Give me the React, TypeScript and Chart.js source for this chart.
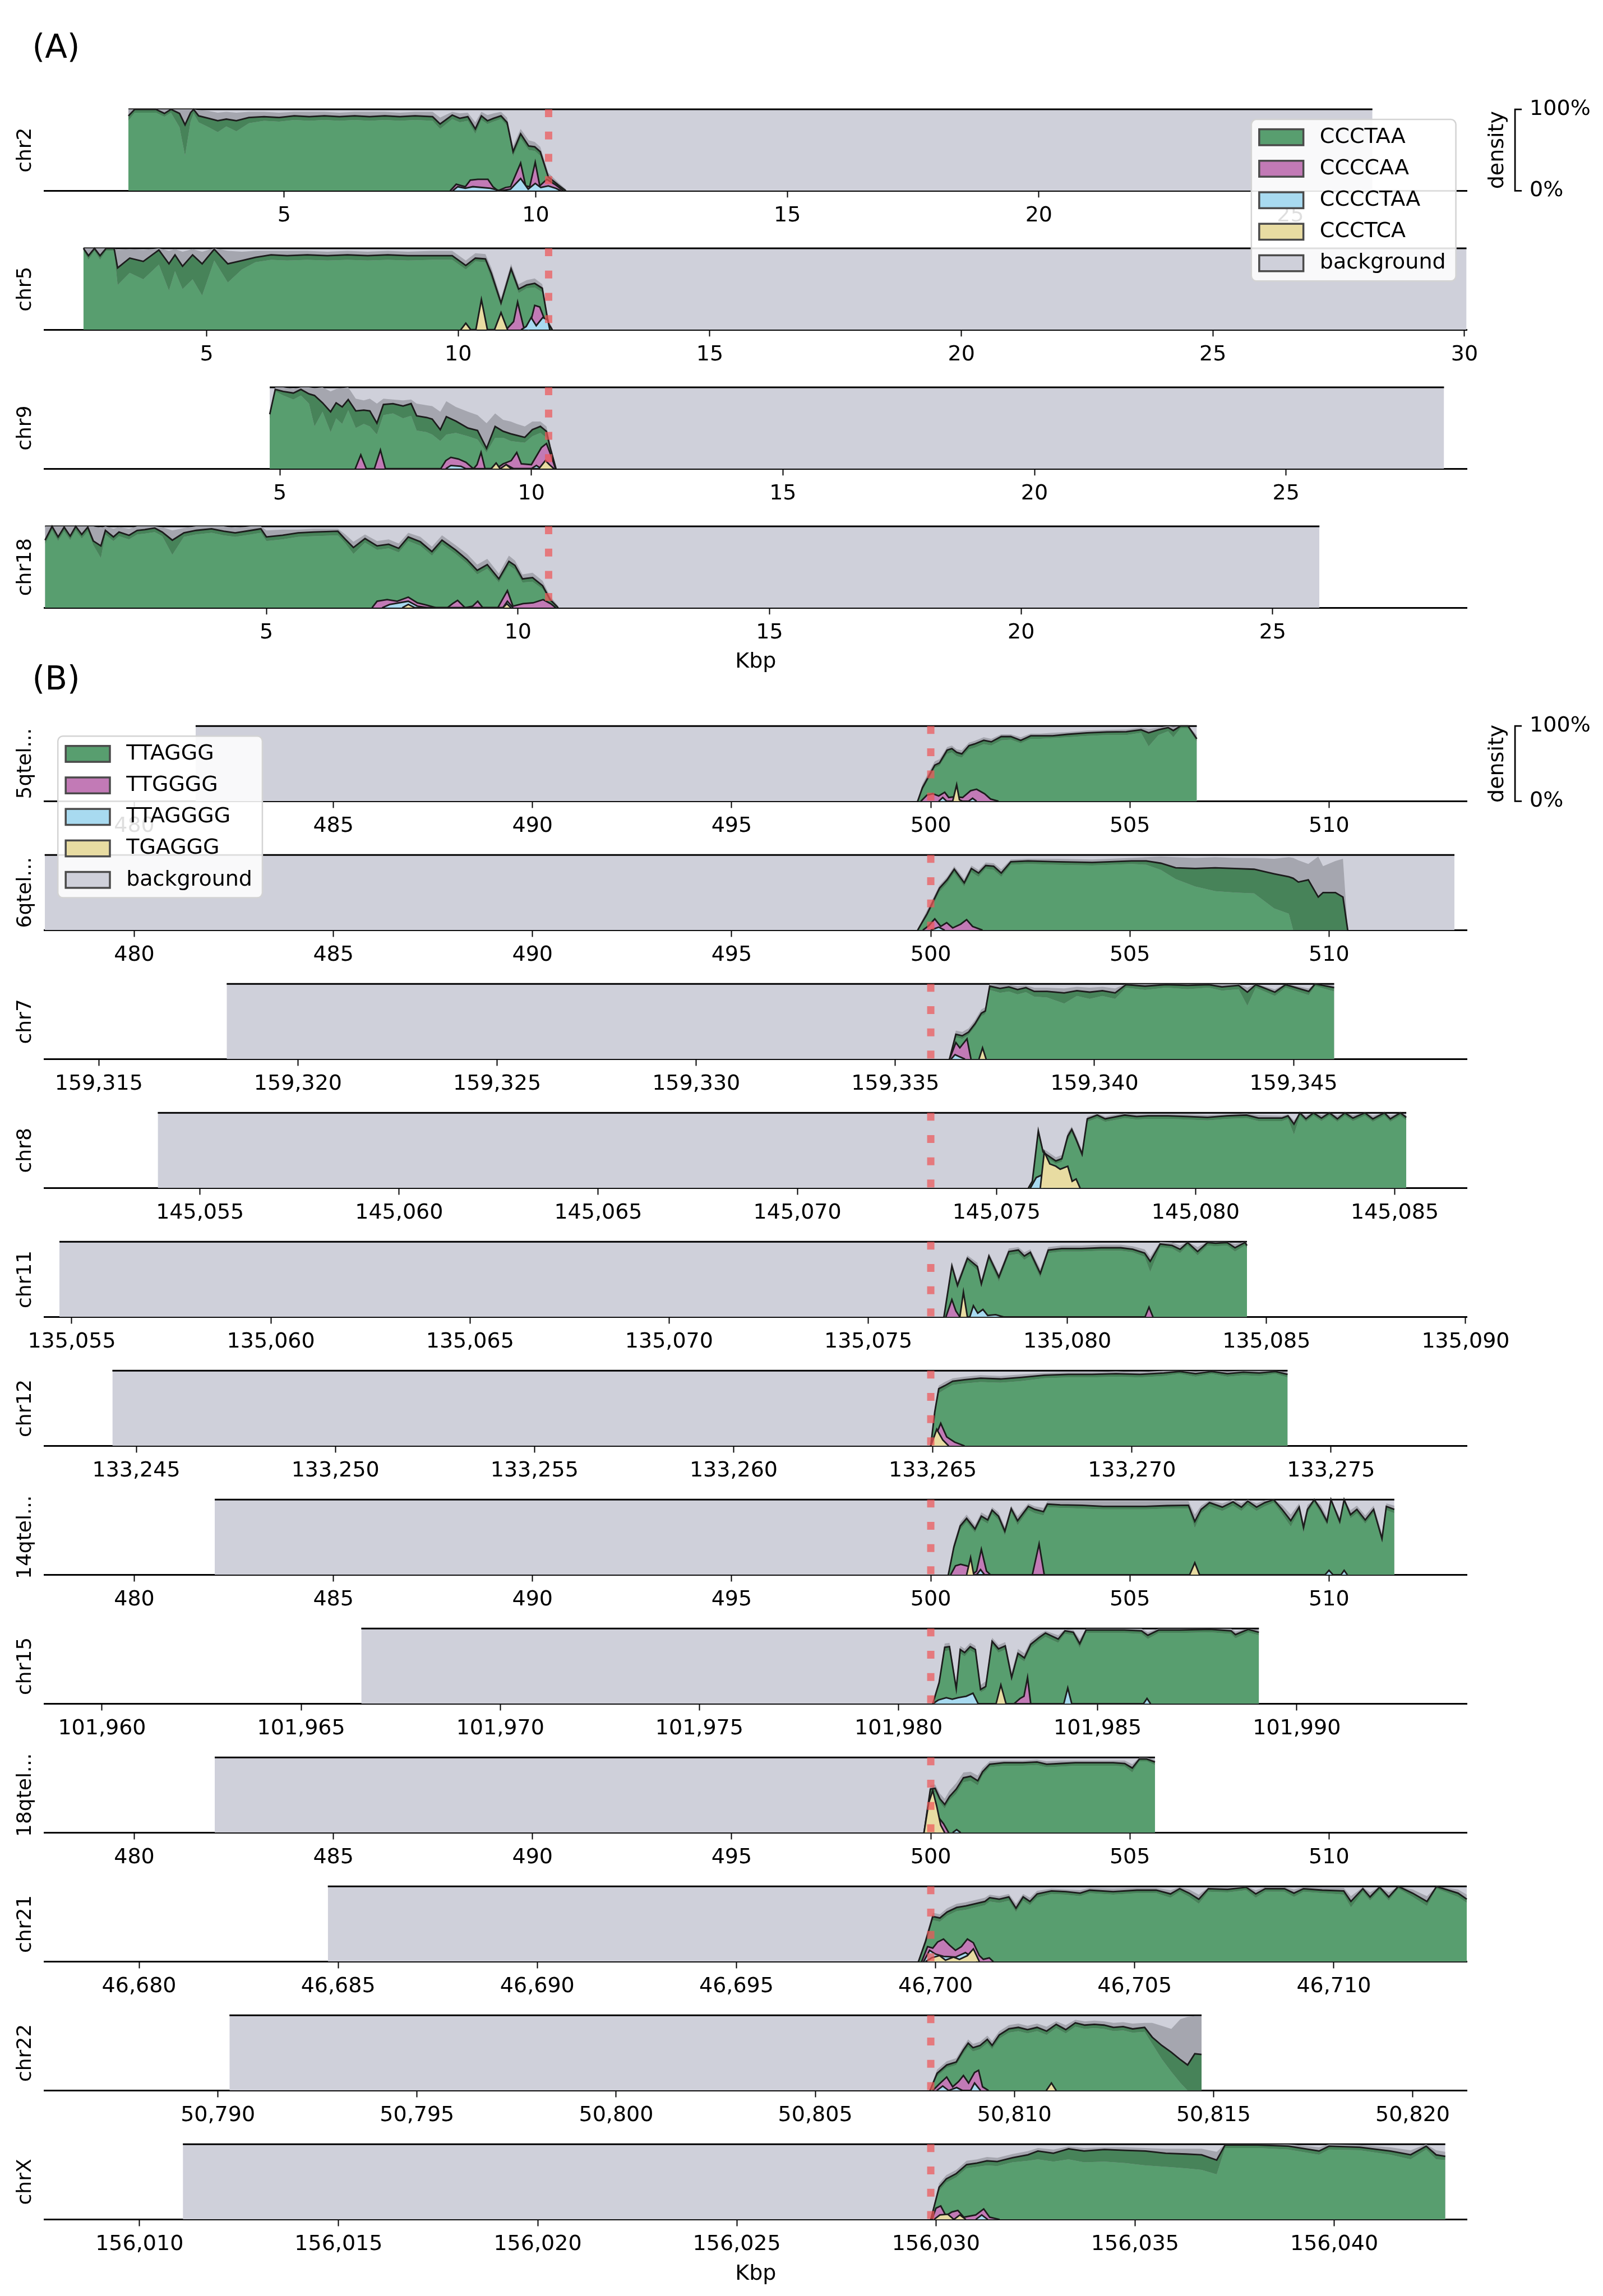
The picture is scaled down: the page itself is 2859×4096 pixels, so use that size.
import React, { useEffect, useRef } from "react";
import { Chart, registerables } from "chart.js";
Chart.register(...registerables);

// ----------------------------- text -----------------------------
const PANEL_LABELS = ["(A)", "(B)"];
const AXIS_TITLE = "Kbp";
const DENSITY_LABEL = "density";
const DENSITY_TICKS = ["0%", "100%"];
const LEGEND_A = ["CCCTAA", "CCCCAA", "CCCCTAA", "CCCTCA", "background"];
const LEGEND_B = ["TTAGGG", "TTGGGG", "TTAGGGG", "TGAGGG", "background"];
const LABELS_A = ["chr2", "chr5", "chr9", "chr18"];
const LABELS_B = ["5qtel...", "6qtel...", "chr7", "chr8", "chr11", "chr12", "14qtel...", "chr15", "18qtel...", "chr21", "chr22", "chrX"];

// ----------------------------- data (Kbp) -----------------------------
const BOUNDARY_A = [10.256, 11.796, 10.343, 10.609];
const BOUNDARY_B = [500, 500, 159335.89, 145073.35, 135076.57, 133264.95, 500, 101980.81, 500, 46699.88, 50807.9, 156029.87];
const BG_A = [[1.904, 26.63], [2.55, 30.04], [4.8, 28.14], [0.6, 25.93]];
const BG_B = [[481.54, 506.68], [477.75, 513.15], [159318.21, 159346.02], [145053.94, 145085.29], [135054.69, 135084.51], [133244.4, 133273.91], [482.02, 511.64], [101966.51, 101989.05], [482.02, 505.63], [46684.74, 46713.34], [50790.29, 50814.7], [156011.09, 156042.79]];

// density bands: [position, lower, mean, upper]
const CHR2_BAND = [[1.904,0.86,0.92,1],[2.03,0.96,1,1],[2.45,0.96,1,1],[2.62,0.91,0.95,1],[2.75,0.96,1,1],[2.92,0.78,0.95,1],[3.03,0.43,0.81,1],[3.14,0.85,0.96,1],[3.2,0.95,1,1],[3.3,0.84,0.92,0.99],[3.5,0.78,0.89,0.98],[3.68,0.72,0.86,0.96],[3.85,0.79,0.88,0.97],[4.05,0.73,0.86,0.96],[4.3,0.83,0.9,0.97],[4.6,0.86,0.91,0.97],[4.9,0.85,0.9,0.96],[5.2,0.87,0.92,0.97],[5.5,0.86,0.91,0.97],[5.8,0.87,0.92,0.97],[6.1,0.86,0.91,0.96],[6.4,0.87,0.92,0.97],[6.7,0.86,0.91,0.97],[7,0.87,0.92,0.97],[7.3,0.86,0.91,0.96],[7.6,0.87,0.92,0.97],[7.95,0.86,0.91,0.97],[8.1,0.76,0.82,0.9],[8.34,0.88,0.93,0.97],[8.49,0.84,0.89,0.95],[8.65,0.86,0.91,0.96],[8.8,0.7,0.76,0.84],[8.92,0.87,0.92,0.97],[9.04,0.82,0.86,0.93],[9.16,0.85,0.89,0.95],[9.31,0.88,0.92,0.97],[9.43,0.8,0.84,0.9],[9.55,0.42,0.48,0.55],[9.7,0.64,0.7,0.76],[9.86,0.5,0.55,0.62],[9.98,0.49,0.54,0.6],[10.09,0.43,0.48,0.54],[10.25,0.13,0.17,0.22],[10.45,0.05,0.07,0.1],[10.6,0,0,0.02]];
const CHR2_PINK = [[8.3,0],[8.42,0.08],[8.6,0.05],[8.7,0.13],[8.85,0.14],[9.05,0.14],[9.15,0.05],[9.25,0],[9.4,0.04],[9.5,0.05],[9.7,0.34],[9.8,0.06],[9.88,0.05],[9.99,0.35],[10.08,0.06],[10.22,0.14],[10.4,0.07],[10.55,0]];
const CHR2_BLUE = [[8.35,0],[8.45,0.05],[8.6,0.03],[8.75,0.05],[9.1,0.03],[9.3,0],[9.5,0.02],[9.7,0.15],[9.85,0.02],[9.99,0.09],[10.1,0.04],[10.25,0.06],[10.4,0.03],[10.5,0]];
const CHR2_YELLOW: number[][] = [];

const CHR5_BAND = [[2.55,0.97,1,1],[2.65,0.86,0.91,1],[2.77,0.97,1,1],[2.88,0.86,0.91,1],[3,0.97,1,1],[3.16,0.97,1,1],[3.23,0.55,0.76,0.98],[3.47,0.7,0.88,0.99],[3.74,0.62,0.84,0.98],[4.05,0.8,0.98,1],[4.25,0.48,0.81,0.97],[4.37,0.72,0.92,0.99],[4.52,0.5,0.78,0.96],[4.72,0.62,0.92,0.99],[4.91,0.42,0.81,0.96],[5.15,0.85,0.99,1],[5.42,0.58,0.81,0.97],[5.7,0.74,0.85,0.96],[5.97,0.83,0.89,0.97],[6.28,0.86,0.92,0.97],[6.6,0.85,0.91,0.97],[7,0.86,0.92,0.97],[7.4,0.85,0.91,0.96],[7.8,0.86,0.92,0.97],[8.2,0.85,0.91,0.96],[8.6,0.86,0.92,0.97],[9,0.85,0.91,0.96],[9.48,0.86,0.91,0.97],[9.88,0.86,0.91,0.97],[10.15,0.74,0.79,0.85],[10.34,0.84,0.88,0.94],[10.54,0.83,0.87,0.93],[10.66,0.62,0.69,0.76],[10.85,0.28,0.33,0.39],[11.05,0.7,0.75,0.81],[11.2,0.45,0.5,0.56],[11.36,0.51,0.55,0.61],[11.52,0.52,0.57,0.63],[11.67,0.46,0.51,0.56],[11.79,0.05,0.08,0.12],[11.87,0,0,0.02]];
const CHR5_PINK = [[10.95,0],[11.1,0.1],[11.18,0.34],[11.3,0.03],[11.4,0],[11.52,0.3],[11.62,0.28],[11.72,0.12],[11.8,0]];
const CHR5_BLUE = [[11.25,0],[11.35,0.04],[11.45,0.15],[11.55,0.05],[11.68,0.15],[11.78,0.12],[11.82,0]];
const CHR5_YELLOW = [[10.05,0],[10.15,0.08],[10.25,0],[10.35,0],[10.46,0.37],[10.58,0],[10.72,0],[10.85,0.21],[10.98,0]];

const CHR9_BAND = [[4.8,0.6,0.67,0.7],[4.91,0.95,0.975,1],[5.07,0.9,0.95,1],[5.27,0.85,0.93,0.98],[5.42,0.9,0.975,1],[5.58,0.8,0.92,1],[5.69,0.52,0.9,0.99],[5.85,0.7,0.81,1],[6.01,0.45,0.7,0.95],[6.12,0.62,0.81,0.98],[6.24,0.55,0.76,0.99],[6.36,0.72,0.85,1],[6.51,0.5,0.71,0.86],[6.67,0.55,0.72,0.84],[6.79,0.52,0.71,0.86],[6.93,0.42,0.56,0.8],[7.06,0.66,0.79,0.86],[7.25,0.68,0.8,0.85],[7.45,0.62,0.77,0.84],[7.61,0.65,0.8,0.85],[7.72,0.47,0.65,0.8],[7.92,0.45,0.63,0.78],[8.03,0.42,0.61,0.77],[8.19,0.34,0.48,0.7],[8.31,0.42,0.64,0.83],[8.5,0.44,0.585,0.76],[8.74,0.4,0.5,0.7],[8.93,0.36,0.47,0.66],[9.11,0.2,0.25,0.56],[9.28,0.38,0.52,0.68],[9.44,0.38,0.46,0.6],[9.59,0.34,0.43,0.58],[9.71,0.33,0.41,0.55],[9.87,0.32,0.385,0.52],[10.02,0.4,0.48,0.58],[10.18,0.44,0.52,0.58],[10.3,0.38,0.46,0.52],[10.37,0.22,0.27,0.32],[10.49,0,0,0.02]];
const CHR9_PINK = [[6.5,0],[6.61,0.17],[6.72,0],[6.88,0],[7,0.23],[7.1,0],[8.2,0],[8.3,0.1],[8.4,0.14],[8.55,0.12],[8.7,0.08],[8.85,0],[8.92,0.05],[9,0.2],[9.08,0],[9.3,0],[9.44,0.06],[9.6,0.1],[9.71,0.2],[9.8,0.06],[10,0.05],[10.2,0.26],[10.3,0.31],[10.4,0.15],[10.48,0]];
const CHR9_BLUE = [[8.3,0],[8.4,0.04],[8.6,0.03],[8.7,0],[9.4,0],[9.5,0.05],[9.65,0],[10,0],[10.1,0.04],[10.2,0]];
const CHR9_YELLOW = [[9.2,0],[9.3,0.07],[9.38,0],[9.5,0.05],[9.6,0],[10.15,0],[10.28,0.1],[10.36,0.05],[10.45,0]];

const CHR18_BAND = [[0.6,0.78,0.83,1],[0.74,0.95,1,1],[0.86,0.82,0.87,1],[0.98,0.94,0.99,1],[1.1,0.83,0.88,1],[1.21,0.95,1,1],[1.33,0.85,0.9,1],[1.45,0.94,0.99,1],[1.56,0.77,0.82,1],[1.71,0.61,0.76,0.98],[1.8,0.9,0.95,1],[1.96,0.82,0.87,0.97],[2.07,0.88,0.93,0.99],[2.27,0.84,0.89,0.97],[2.43,0.9,0.95,1],[2.58,0.91,0.96,1],[2.78,0.93,0.98,1],[2.93,0.88,0.93,0.99],[3.13,0.65,0.83,0.95],[3.36,0.87,0.92,0.98],[3.6,0.9,0.95,1],[3.91,0.92,0.97,1],[4.15,0.89,0.94,1],[4.38,0.87,0.92,0.98],[4.69,0.9,0.95,1],[4.89,0.92,0.97,1],[5,0.82,0.87,0.95],[5.32,0.84,0.89,0.96],[5.63,0.87,0.92,0.96],[5.95,0.88,0.93,0.97],[6.42,0.89,0.94,0.97],[6.57,0.79,0.84,0.9],[6.73,0.66,0.74,0.81],[6.96,0.8,0.85,0.9],[7.2,0.71,0.76,0.82],[7.43,0.73,0.78,0.84],[7.63,0.68,0.73,0.79],[7.82,0.82,0.87,0.92],[8.06,0.76,0.81,0.87],[8.29,0.64,0.69,0.75],[8.49,0.78,0.83,0.89],[8.76,0.66,0.71,0.77],[8.99,0.54,0.59,0.66],[9.19,0.41,0.46,0.53],[9.39,0.48,0.53,0.6],[9.62,0.31,0.355,0.42],[9.82,0.52,0.57,0.64],[9.94,0.47,0.52,0.58],[10.09,0.31,0.355,0.41],[10.29,0.32,0.37,0.43],[10.49,0.23,0.27,0.33],[10.64,0.07,0.1,0.14],[10.8,0,0,0.02]];
const CHR18_PINK = [[7.1,0],[7.2,0.08],[7.4,0.1],[7.6,0.08],[7.82,0.13],[8,0.06],[8.2,0.03],[8.37,0],[8.6,0],[8.7,0.05],[8.8,0.09],[8.95,0],[9.1,0.02],[9.2,0.08],[9.3,0],[9.6,0],[9.79,0.21],[9.9,0.02],[10.1,0.05],[10.3,0.06],[10.5,0.1],[10.65,0.05],[10.75,0]];
const CHR18_BLUE = [[7.3,0],[7.45,0.04],[7.82,0.08],[8,0.02],[8.2,0],[9.7,0],[9.79,0.08],[9.9,0]];
const CHR18_YELLOW = [[7.7,0],[7.82,0.04],[7.95,0],[9.7,0],[9.78,0.05],[9.86,0]];

const Q5_BAND = [[499.67,0,0,0.02],[499.79,0.14,0.18,0.23],[500.1,0.44,0.48,0.53],[500.22,0.47,0.51,0.56],[500.41,0.63,0.68,0.72],[500.53,0.65,0.7,0.74],[500.65,0.6,0.65,0.69],[500.78,0.58,0.63,0.68],[500.96,0.69,0.74,0.78],[501.09,0.71,0.76,0.8],[501.33,0.76,0.81,0.85],[501.52,0.74,0.79,0.83],[501.77,0.81,0.86,0.89],[502.01,0.82,0.86,0.89],[502.26,0.77,0.81,0.85],[502.51,0.83,0.87,0.9],[502.75,0.83,0.87,0.9],[503.06,0.84,0.87,0.91],[503.43,0.85,0.89,0.92],[503.93,0.87,0.91,0.94],[504.42,0.88,0.92,0.95],[504.91,0.88,0.925,0.955],[505.28,0.91,0.95,0.98],[505.47,0.73,0.91,0.96],[505.72,0.88,0.95,0.98],[505.96,0.93,0.98,1],[506.09,0.85,0.94,0.99],[506.27,0.97,1,1],[506.46,0.97,1,1],[506.68,0.79,0.83,0.88]];
const Q5_PINK = [[499.75,0],[499.9,0.08],[500.05,0.1],[500.2,0.07],[500.35,0.12],[500.45,0.05],[500.6,0.06],[500.8,0.05],[501,0.14],[501.15,0.16],[501.35,0.1],[501.5,0.03],[501.7,0]];
const Q5_BLUE = [[500.2,0],[500.3,0.05],[500.4,0],[500.95,0],[501.05,0.04],[501.15,0]];
const Q5_YELLOW = [[500.55,0],[500.65,0.22],[500.72,0.02],[500.8,0]];

const Q6_BAND = [[499.67,0,0,0.02],[499.91,0.18,0.22,0.27],[500.22,0.51,0.56,0.6],[500.41,0.62,0.67,0.71],[500.59,0.76,0.81,0.85],[500.84,0.58,0.63,0.68],[501.02,0.77,0.82,0.86],[501.2,0.71,0.76,0.8],[501.38,0.82,0.86,0.9],[501.58,0.8,0.85,0.89],[501.77,0.71,0.76,0.81],[502.01,0.87,0.91,0.94],[502.44,0.88,0.92,0.95],[503.19,0.87,0.91,0.95],[504.05,0.86,0.9,0.94],[505.04,0.88,0.92,0.96],[505.41,0.87,0.92,0.97],[505.78,0.8,0.89,0.98],[506.15,0.68,0.83,0.97],[506.64,0.58,0.82,0.96],[507.14,0.52,0.83,0.97],[507.63,0.5,0.82,0.96],[508.12,0.49,0.81,0.96],[508.62,0.29,0.75,0.95],[508.99,0.22,0.71,0.97],[509.1,0,0.69,0.96],[509.23,0,0.64,0.93],[509.48,0,0.67,0.88],[509.73,0,0.44,0.98],[509.85,0,0.5,0.85],[510.16,0,0.5,0.92],[510.35,0,0.44,0.95],[510.47,0,0,0]];
const Q6_PINK = [[499.8,0],[499.95,0.06],[500.1,0.15],[500.25,0.05],[500.4,0.1],[500.55,0.03],[500.75,0.08],[500.9,0.14],[501.05,0.05],[501.3,0]];
const Q6_BLUE = [[500,0],[500.2,0.04],[500.35,0]];
const Q6_YELLOW: number[][] = [];

const CHR7_BAND = [[159336.36,0,0,0.02],[159336.52,0.29,0.33,0.38],[159336.68,0.27,0.31,0.36],[159336.84,0.32,0.36,0.41],[159337,0.43,0.47,0.52],[159337.16,0.57,0.61,0.66],[159337.26,0.6,0.64,0.69],[159337.37,0.92,0.97,1],[159337.63,0.88,0.94,0.99],[159337.85,0.9,0.96,0.99],[159338.07,0.86,0.925,0.97],[159338.28,0.89,0.95,0.98],[159338.49,0.83,0.9,0.95],[159338.81,0.82,0.9,0.95],[159339.24,0.74,0.88,0.94],[159339.56,0.84,0.91,0.96],[159339.88,0.8,0.89,0.95],[159340.2,0.84,0.91,0.96],[159340.52,0.8,0.88,0.94],[159340.79,0.95,0.99,1],[159341.27,0.92,0.97,1],[159341.8,0.95,0.99,1],[159342.34,0.93,0.98,1],[159342.87,0.95,0.99,1],[159343.2,0.91,0.96,1],[159343.62,0.93,0.98,1],[159343.84,0.71,0.89,0.95],[159344.05,0.95,0.99,1],[159344.53,0.84,0.89,0.93],[159344.8,0.95,0.99,1],[159345.38,0.85,0.9,0.94],[159345.54,0.97,1,1],[159346.02,0.9,0.95,0.98]];
const CHR7_PINK = [[159336.36,0],[159336.52,0.22],[159336.62,0.15],[159336.8,0.27],[159336.9,0]];
const CHR7_BLUE = [[159336.4,0],[159336.5,0.06],[159336.62,0.03],[159336.75,0]];
const CHR7_YELLOW = [[159337.1,0],[159337.19,0.15],[159337.28,0]];

const CHR8_BAND = [[145075.8,0,0,0.02],[145075.9,0.07,0.09,0.12],[145076.05,0.7,0.76,0.8],[145076.17,0.44,0.48,0.52],[145076.27,0.4,0.44,0.49],[145076.49,0.32,0.36,0.41],[145076.64,0.35,0.39,0.44],[145076.79,0.64,0.69,0.74],[145076.89,0.73,0.78,0.82],[145076.99,0.62,0.66,0.71],[145077.15,0.4,0.45,0.5],[145077.28,0.88,0.92,0.95],[145077.53,0.93,0.97,0.99],[145077.73,0.88,0.92,0.95],[145077.92,0.9,0.94,0.97],[145078.22,0.93,0.97,0.99],[145078.52,0.91,0.95,0.98],[145078.81,0.92,0.96,0.98],[145079.31,0.92,0.96,0.98],[145079.8,0.91,0.95,0.98],[145080.3,0.9,0.94,0.97],[145080.79,0.92,0.96,0.98],[145081.28,0.93,0.97,0.99],[145081.58,0.89,0.93,0.97],[145082.17,0.89,0.93,0.96],[145082.32,0.92,0.96,0.98],[145082.47,0.71,0.85,0.9],[145082.62,0.96,1,1],[145082.77,0.88,0.92,0.96],[145082.96,0.96,1,1],[145083.16,0.89,0.93,0.97],[145083.36,0.96,1,1],[145083.56,0.88,0.92,0.96],[145083.75,0.96,1,1],[145083.95,0.89,0.93,0.97],[145084.25,0.96,1,1],[145084.45,0.88,0.92,0.96],[145084.74,0.96,1,1],[145084.89,0.88,0.92,0.96],[145085.14,0.96,1,1],[145085.29,0.9,0.94,0.97]];
const CHR8_PINK: number[][] = [];
const CHR8_BLUE = [[145075.85,0],[145076,0.14],[145076.12,0.17],[145076.2,0]];
const CHR8_YELLOW = [[145076.1,0],[145076.2,0.48],[145076.34,0.32],[145076.49,0.29],[145076.6,0.25],[145076.79,0.29],[145076.9,0.09],[145077,0.12],[145077.1,0]];

const CHR11_BAND = [[135076.9,0,0,0.02],[135077.1,0.63,0.68,0.73],[135077.24,0.37,0.42,0.48],[135077.49,0.73,0.78,0.82],[135077.74,0.62,0.67,0.72],[135077.84,0.39,0.44,0.5],[135078.03,0.75,0.81,0.85],[135078.28,0.47,0.53,0.58],[135078.53,0.82,0.87,0.91],[135078.77,0.84,0.89,0.93],[135078.92,0.76,0.81,0.86],[135079.07,0.81,0.86,0.9],[135079.32,0.52,0.58,0.64],[135079.52,0.85,0.89,0.93],[135079.86,0.87,0.91,0.95],[135080.36,0.87,0.91,0.95],[135080.85,0.88,0.92,0.96],[135081.34,0.88,0.92,0.96],[135081.64,0.86,0.9,0.94],[135081.94,0.8,0.85,0.9],[135082.08,0.6,0.74,0.8],[135082.33,0.93,0.97,1],[135082.63,0.91,0.95,0.99],[135082.83,0.85,0.9,0.95],[135083.02,0.95,0.99,1],[135083.27,0.82,0.87,0.93],[135083.52,0.95,0.99,1],[135083.72,0.94,0.98,1],[135084.01,0.95,0.99,1],[135084.21,0.87,0.92,0.97],[135084.46,0.95,0.99,1],[135084.51,0.91,0.95,0.99]];
const CHR11_PINK = [[135076.95,0],[135077.1,0.23],[135077.2,0.08],[135077.3,0],[135081.95,0],[135082.05,0.13],[135082.15,0]];
const CHR11_BLUE = [[135077.55,0],[135077.64,0.15],[135077.75,0.05],[135077.88,0.1],[135078,0.02],[135078.2,0.03],[135078.4,0]];
const CHR11_YELLOW = [[135077.3,0],[135077.39,0.33],[135077.49,0]];

const CHR12_BAND = [[133264.95,0,0,0.02],[133265.05,0.4,0.45,0.5],[133265.15,0.7,0.76,0.8],[133265.3,0.75,0.8,0.85],[133265.5,0.81,0.86,0.9],[133265.8,0.83,0.88,0.92],[133266.2,0.85,0.9,0.94],[133266.7,0.84,0.89,0.93],[133267.2,0.86,0.91,0.95],[133267.8,0.9,0.94,0.97],[133268.4,0.91,0.95,0.98],[133269,0.91,0.95,0.98],[133269.6,0.92,0.96,0.99],[133270.2,0.91,0.95,0.98],[133270.8,0.93,0.97,1],[133271.2,0.96,0.99,1],[133271.6,0.92,0.96,0.99],[133272,0.96,0.99,1],[133272.4,0.92,0.96,0.99],[133272.8,0.94,0.98,1],[133273.2,0.93,0.97,1],[133273.6,0.96,0.99,1],[133273.91,0.91,0.95,0.98]];
const CHR12_PINK = [[133264.95,0],[133265.05,0.1],[133265.2,0.3],[133265.35,0.12],[133265.55,0.05],[133265.8,0]];
const CHR12_BLUE: number[][] = [];
const CHR12_YELLOW = [[133264.95,0],[133265.1,0.22],[133265.25,0.08],[133265.4,0]];

const Q14_BAND = [[500.44,0,0,0.02],[500.58,0.32,0.37,0.42],[500.74,0.6,0.65,0.7],[500.9,0.7,0.75,0.8],[501.11,0.56,0.61,0.66],[501.27,0.73,0.78,0.83],[501.43,0.68,0.73,0.78],[501.54,0.81,0.86,0.9],[501.7,0.73,0.78,0.83],[501.86,0.52,0.58,0.64],[502.02,0.83,0.88,0.92],[502.18,0.66,0.72,0.78],[502.45,0.86,0.91,0.95],[502.61,0.82,0.87,0.91],[502.83,0.79,0.84,0.89],[502.93,0.9,0.94,0.98],[503.25,0.89,0.93,0.98],[503.79,0.88,0.925,0.98],[504.33,0.87,0.91,0.98],[504.86,0.87,0.91,0.98],[505.4,0.87,0.91,0.98],[505.93,0.88,0.92,0.98],[506.47,0.88,0.925,0.98],[506.63,0.62,0.71,0.8],[506.79,0.82,0.87,0.92],[507,0.91,0.96,0.99],[507.32,0.85,0.9,0.95],[507.59,0.92,0.97,1],[507.8,0.85,0.9,0.95],[507.96,0.93,0.98,1],[508.18,0.85,0.9,0.95],[508.39,0.91,0.96,0.99],[508.61,0.96,1,1],[508.82,0.81,0.87,0.93],[509.04,0.64,0.72,0.8],[509.25,0.85,0.9,0.95],[509.36,0.55,0.63,0.7],[509.46,0.82,0.87,0.93],[509.63,0.96,1,1],[509.79,0.82,0.87,0.93],[509.95,0.66,0.71,0.77],[510.05,0.96,1,1],[510.27,0.66,0.71,0.77],[510.38,0.96,1,1],[510.54,0.75,0.8,0.86],[510.7,0.82,0.87,0.92],[510.91,0.68,0.73,0.79],[511.12,0.82,0.87,0.92],[511.33,0.43,0.48,0.55],[511.44,0.86,0.91,0.95],[511.64,0.82,0.87,0.92]];
const Q14_PINK = [[500.5,0],[500.62,0.12],[500.75,0.14],[500.9,0.12],[501,0.1],[501.08,0.02],[501.15,0.05],[501.27,0.34],[501.4,0.05],[501.5,0],[502.55,0],[502.72,0.41],[502.85,0]];
const Q14_BLUE = [[501.15,0],[501.25,0.07],[501.35,0],[509.9,0],[510,0.06],[510.1,0],[510.3,0],[510.38,0.06],[510.46,0]];
const Q14_YELLOW = [[500.9,0],[501,0.23],[501.08,0],[506.5,0],[506.63,0.16],[506.75,0]];

const CHR15_BAND = [[101980.86,0,0,0.02],[101981.02,0.24,0.28,0.33],[101981.16,0.7,0.75,0.8],[101981.28,0.71,0.76,0.81],[101981.45,0.16,0.2,0.26],[101981.55,0.67,0.72,0.77],[101981.66,0.63,0.68,0.73],[101981.8,0.71,0.76,0.81],[101981.93,0.67,0.72,0.77],[101982.06,0.15,0.19,0.25],[101982.19,0.19,0.23,0.3],[101982.35,0.78,0.83,0.88],[101982.51,0.68,0.73,0.78],[101982.68,0.72,0.77,0.82],[101982.84,0.3,0.35,0.42],[101983,0.62,0.67,0.73],[101983.16,0.56,0.61,0.67],[101983.32,0.74,0.79,0.84],[101983.53,0.83,0.88,0.92],[101983.69,0.89,0.94,0.97],[101983.85,0.85,0.9,0.94],[101984.01,0.81,0.86,0.91],[101984.18,0.93,0.97,0.99],[101984.39,0.91,0.95,0.98],[101984.55,0.74,0.8,0.86],[101984.71,0.94,0.98,1],[101985.14,0.94,0.98,1],[101985.67,0.94,0.98,1],[101986.1,0.93,0.97,1],[101986.26,0.86,0.91,0.95],[101986.53,0.94,0.98,1],[101987.07,0.94,0.98,1],[101987.82,0.95,0.99,1],[101988.35,0.93,0.97,1],[101988.46,0.87,0.92,0.96],[101988.78,0.95,0.99,1],[101989.05,0.91,0.95,0.98]];
const CHR15_PINK = [[101982.9,0],[101983.05,0.07],[101983.15,0.1],[101983.24,0.35],[101983.32,0]];
const CHR15_BLUE = [[101980.86,0],[101981,0.05],[101981.2,0.08],[101981.35,0.06],[101981.5,0.08],[101981.7,0.1],[101981.87,0.14],[101982,0],[101984.15,0],[101984.25,0.21],[101984.35,0],[101986.15,0],[101986.24,0.07],[101986.33,0]];
const CHR15_YELLOW = [[101982.45,0],[101982.57,0.25],[101982.7,0]];

const Q18_BAND = [[499.83,0,0,0.02],[499.99,0.53,0.58,0.63],[500.11,0.54,0.59,0.64],[500.23,0.4,0.45,0.52],[500.35,0.32,0.375,0.45],[500.47,0.43,0.48,0.56],[500.64,0.52,0.58,0.66],[500.82,0.67,0.73,0.8],[501,0.69,0.75,0.81],[501.18,0.63,0.69,0.76],[501.3,0.76,0.81,0.86],[501.48,0.87,0.91,0.95],[501.84,0.89,0.93,0.96],[502.31,0.89,0.93,0.96],[502.67,0.9,0.94,0.97],[502.91,0.87,0.91,0.95],[503.27,0.88,0.92,0.96],[503.63,0.89,0.93,0.96],[504.1,0.89,0.93,0.96],[504.58,0.89,0.93,0.96],[504.87,0.88,0.92,0.96],[505.06,0.8,0.86,0.91],[505.24,0.95,0.98,1],[505.42,0.95,0.98,1],[505.63,0.9,0.94,0.97]];
const Q18_PINK = [[500.1,0],[500.2,0.2],[500.32,0.12],[500.45,0]];
const Q18_BLUE = [[500.55,0],[500.65,0.04],[500.75,0]];
const Q18_YELLOW = [[499.83,0],[499.95,0.4],[500.05,0.56],[500.15,0.35],[500.25,0.1],[500.35,0]];

const CHR21_BAND = [[46699.57,0,0,0.02],[46699.75,0.23,0.27,0.32],[46699.93,0.55,0.6,0.65],[46700.11,0.53,0.58,0.63],[46700.29,0.61,0.66,0.71],[46700.53,0.67,0.72,0.77],[46700.76,0.69,0.74,0.79],[46701,0.72,0.77,0.82],[46701.24,0.75,0.8,0.85],[46701.36,0.8,0.85,0.89],[46701.6,0.78,0.83,0.87],[46701.84,0.81,0.86,0.9],[46702.02,0.66,0.71,0.77],[46702.2,0.81,0.86,0.9],[46702.37,0.75,0.8,0.85],[46702.55,0.85,0.9,0.94],[46702.91,0.9,0.94,0.97],[46703.27,0.89,0.93,0.96],[46703.63,0.87,0.91,0.95],[46703.87,0.91,0.95,0.98],[46704.46,0.89,0.93,0.97],[46705.06,0.91,0.95,0.98],[46705.54,0.91,0.95,0.98],[46705.9,0.85,0.9,0.95],[46706.13,0.93,0.97,0.99],[46706.37,0.86,0.91,0.96],[46706.61,0.77,0.83,0.89],[46706.85,0.93,0.97,0.99],[46707.33,0.92,0.96,0.99],[46707.8,0.95,0.99,1],[46708.04,0.85,0.9,0.95],[46708.28,0.93,0.97,0.99],[46708.76,0.93,0.97,0.99],[46709,0.86,0.91,0.96],[46709.24,0.93,0.97,0.99],[46709.71,0.91,0.95,0.98],[46710.25,0.89,0.94,0.98],[46710.43,0.72,0.8,0.87],[46710.73,0.93,0.97,0.99],[46710.91,0.81,0.86,0.92],[46711.15,0.95,0.99,1],[46711.38,0.81,0.86,0.92],[46711.62,0.97,1,1],[46711.98,0.86,0.91,0.96],[46712.34,0.74,0.8,0.87],[46712.58,0.97,1,1],[46713.12,0.86,0.91,0.96],[46713.34,0.78,0.83,0.89]];
const CHR21_PINK = [[46699.65,0],[46699.8,0.2],[46699.93,0.18],[46700.05,0.26],[46700.2,0.3],[46700.35,0.22],[46700.5,0.15],[46700.65,0.2],[46700.8,0.3],[46700.95,0.25],[46701.1,0.08],[46701.2,0.03],[46701.35,0.05],[46701.45,0]];
const CHR21_BLUE = [[46699.7,0],[46699.85,0.15],[46700,0.1],[46700.2,0.07],[46700.5,0.06],[46700.75,0.12],[46700.95,0.05],[46701.05,0]];
const CHR21_YELLOW = [[46699.75,0],[46699.9,0.05],[46700.1,0.08],[46700.25,0.02],[46700.45,0.06],[46700.6,0.03],[46700.8,0.08],[46700.95,0.17],[46701.1,0]];

const CHR22_BAND = [[50807.88,0,0,0.02],[50808.06,0.19,0.23,0.28],[50808.3,0.3,0.34,0.39],[50808.54,0.34,0.38,0.43],[50808.72,0.49,0.54,0.59],[50808.84,0.58,0.63,0.68],[50808.96,0.52,0.57,0.62],[50809.14,0.55,0.6,0.65],[50809.32,0.63,0.68,0.73],[50809.44,0.55,0.6,0.66],[50809.62,0.69,0.74,0.79],[50809.86,0.77,0.82,0.87],[50810.1,0.79,0.84,0.89],[50810.33,0.76,0.81,0.86],[50810.57,0.79,0.84,0.89],[50810.81,0.74,0.79,0.85],[50811.05,0.83,0.88,0.92],[50811.29,0.76,0.81,0.87],[50811.53,0.85,0.9,0.94],[50811.77,0.82,0.87,0.92],[50812.01,0.83,0.88,0.93],[50812.25,0.82,0.87,0.92],[50812.49,0.79,0.84,0.9],[50812.73,0.8,0.85,0.91],[50812.97,0.77,0.82,0.89],[50813.27,0.78,0.84,0.9],[50813.46,0.62,0.71,0.9],[50813.7,0.42,0.6,0.86],[50813.94,0.25,0.51,0.82],[50814.17,0.1,0.41,0.95],[50814.35,0,0.34,0.98],[50814.53,0,0.49,0.99],[50814.7,0,0.48,0.99]];
const CHR22_PINK = [[50807.95,0],[50808.1,0.08],[50808.3,0.18],[50808.45,0.05],[50808.6,0.12],[50808.72,0.2],[50808.85,0.1],[50809,0.24],[50809.1,0.27],[50809.2,0.05],[50809.35,0]];
const CHR22_BLUE = [[50808.05,0],[50808.2,0.06],[50808.35,0],[50808.55,0.04],[50808.7,0],[50808.9,0],[50809,0.1],[50809.15,0]];
const CHR22_YELLOW = [[50810.8,0],[50810.93,0.1],[50811.05,0]];

const CHRX_BAND = [[156029.87,0,0,0.02],[156030.08,0.38,0.43,0.48],[156030.26,0.49,0.54,0.59],[156030.51,0.56,0.61,0.66],[156030.77,0.68,0.73,0.78],[156031.03,0.7,0.75,0.8],[156031.28,0.72,0.78,0.83],[156031.54,0.71,0.77,0.82],[156031.92,0.76,0.82,0.87],[156032.31,0.78,0.86,0.91],[156032.56,0.8,0.91,0.95],[156032.95,0.77,0.88,0.93],[156033.33,0.8,0.94,0.97],[156033.72,0.76,0.91,0.95],[156034.23,0.77,0.93,0.96],[156034.74,0.75,0.92,0.96],[156035.26,0.72,0.91,0.95],[156035.77,0.7,0.88,0.94],[156036.28,0.68,0.87,0.94],[156036.67,0.66,0.86,0.94],[156037.05,0.6,0.79,0.9],[156037.26,0.95,0.99,1],[156038.08,0.95,0.99,1],[156038.85,0.93,0.975,1],[156039.62,0.86,0.91,0.96],[156039.87,0.93,0.975,1],[156040.64,0.92,0.96,0.99],[156041.41,0.86,0.91,0.96],[156041.92,0.8,0.86,0.92],[156042.31,0.93,0.975,1],[156042.56,0.8,0.86,0.92],[156042.79,0.79,0.84,0.9]];
const CHRX_PINK = [[156029.9,0],[156030,0.15],[156030.12,0.18],[156030.25,0.05],[156030.4,0.1],[156030.55,0.12],[156030.7,0.03],[156031,0.06],[156031.2,0.14],[156031.35,0.03],[156031.6,0]];
const CHRX_BLUE = [[156031,0],[156031.15,0.06],[156031.3,0]];
const CHRX_YELLOW = [[156029.95,0],[156030.1,0.06],[156030.3,0.07],[156030.45,0],[156030.6,0.06],[156030.75,0]];

const BANDS_A = [CHR2_BAND, CHR5_BAND, CHR9_BAND, CHR18_BAND];
const PINK_A = [CHR2_PINK, CHR5_PINK, CHR9_PINK, CHR18_PINK];
const BLUE_A = [CHR2_BLUE, CHR5_BLUE, CHR9_BLUE, CHR18_BLUE];
const YELLOW_A = [CHR2_YELLOW, CHR5_YELLOW, CHR9_YELLOW, CHR18_YELLOW];
const BANDS_B = [Q5_BAND, Q6_BAND, CHR7_BAND, CHR8_BAND, CHR11_BAND, CHR12_BAND, Q14_BAND, CHR15_BAND, Q18_BAND, CHR21_BAND, CHR22_BAND, CHRX_BAND];
const PINK_B = [Q5_PINK, Q6_PINK, CHR7_PINK, CHR8_PINK, CHR11_PINK, CHR12_PINK, Q14_PINK, CHR15_PINK, Q18_PINK, CHR21_PINK, CHR22_PINK, CHRX_PINK];
const BLUE_B = [Q5_BLUE, Q6_BLUE, CHR7_BLUE, CHR8_BLUE, CHR11_BLUE, CHR12_BLUE, Q14_BLUE, CHR15_BLUE, Q18_BLUE, CHR21_BLUE, CHR22_BLUE, CHRX_BLUE];
const YELLOW_B = [Q5_YELLOW, Q6_YELLOW, CHR7_YELLOW, CHR8_YELLOW, CHR11_YELLOW, CHR12_YELLOW, Q14_YELLOW, CHR15_YELLOW, Q18_YELLOW, CHR21_YELLOW, CHR22_YELLOW, CHRX_YELLOW];

// ----------------------------- styles / layout -----------------------------
const S = 0.916;
const W = 2859;
const H = 4096;
const FONT = '"DejaVu Sans", sans-serif';
const FS = 38;
const YFS = 36;
const PLOT_L = 87 * S;
const PLOT_R = 2856 * S;
const Y_PAD_L = 24.5;
const XAXIS_H = 120;
const GREEN = "#589E6F";
const DKGREEN = "#478359";
const GRAYBAND = "#A5A6AF";
const BG = "#CFD0DA";
const PINK = "#C27AB6";
const BLUE = "#A8DAF0";
const YELLOW = "#E8DCA2";
const LINE = "#1c1c1c";
const RED = "rgba(237,87,89,0.72)";
const LEG_COLORS = [GREEN, PINK, BLUE, YELLOW, BG];

const PANEL_A = { top0: 213 * S, step: 270.7 * S, h: 158.5 * S, spanL: 10.016, spanR: 18.25 };
const PANEL_B = { top0: 1414 * S, step: 251.1 * S, h: 146.5 * S, spanL: 22.25, spanR: 13.46 };

const decoPlugin = {
  id: "deco",
  afterDraw(chart: any, _a: any, o: any) {
    if (!o || (!o.panel && !o.legend && !o.density)) return;
    const ctx = chart.ctx;
    const ca = chart.chartArea;
    const ys = chart.scales.y;
    ctx.save();
    ctx.fillStyle = "#000";
    if (o.panel) {
      ctx.font = `58px ${FONT}`;
      ctx.textAlign = "left";
      ctx.textBaseline = "middle";
      ctx.fillText(o.panel, 57.5, ca.top + o.panelDy);
    }
    if (o.density) {
      const x0 = ca.right + 86;
      const yt = ys.getPixelForValue(1);
      const yb = ys.getPixelForValue(0);
      ctx.strokeStyle = "#000";
      ctx.lineWidth = 2.75;
      ctx.beginPath();
      ctx.moveTo(x0 + 12, yt);
      ctx.lineTo(x0, yt);
      ctx.lineTo(x0, yb);
      ctx.lineTo(x0 + 12, yb);
      ctx.stroke();
      ctx.font = `${FS}px ${FONT}`;
      ctx.textAlign = "left";
      ctx.textBaseline = "middle";
      ctx.fillText(DENSITY_TICKS[1], x0 + 26, yt);
      ctx.fillText(DENSITY_TICKS[0], x0 + 26, yb);
      ctx.save();
      ctx.translate(x0 - 31, (yt + yb) / 2);
      ctx.rotate(-Math.PI / 2);
      ctx.textAlign = "center";
      ctx.fillText(DENSITY_LABEL, 0, 0);
      ctx.restore();
    }
    if (o.legend) {
      const L = o.legend;
      ctx.font = `${FS}px ${FONT}`;
      const tw = Math.max(...L.labels.map((t: string) => ctx.measureText(t).width));
      const rowH = 56.2, swW = 78.8, swH = 28.4, padT = 17.5, swDx = 14, txDx = 122;
      const bw = txDx + tw + 18;
      const bh = 2 * padT + 4 * rowH + swH;
      const bx = L.side === "right" ? ca.right - 19.5 - bw : ca.left + 23.5;
      const by = ca.top + 18;
      ctx.beginPath();
      if (ctx.roundRect) ctx.roundRect(bx, by, bw, bh, 9);
      else ctx.rect(bx, by, bw, bh);
      ctx.fillStyle = "rgba(255,255,255,0.87)";
      ctx.fill();
      ctx.strokeStyle = "#d3d3d3";
      ctx.lineWidth = 2.5;
      ctx.stroke();
      L.labels.forEach((t: string, i: number) => {
        const sy = by + padT + i * rowH;
        ctx.fillStyle = L.colors[i];
        ctx.fillRect(bx + swDx, sy, swW, swH);
        ctx.strokeStyle = "#4a4a4a";
        ctx.lineWidth = 3.5;
        ctx.strokeRect(bx + swDx, sy, swW, swH);
        ctx.fillStyle = "#000";
        ctx.textAlign = "left";
        ctx.textBaseline = "middle";
        ctx.fillText(t, bx + txDx, sy + swH / 2);
      });
    }
    ctx.restore();
  },
};

type Cfg = {
  key: string; label: string; r: number; bg: number[]; band: number[][]; pink: number[][]; blue: number[][]; yellow: number[][];
  spanL: number; spanR: number; plotTop: number; plotH: number; isLast: boolean; deco: any; padTop0: number; padBottom0: number; z: number; names: string[];
};

function buildTracks(): Cfg[] {
  const out: Cfg[] = [];
  LABELS_A.forEach((label, i) => {
    out.push({
      key: "A" + i, label, r: BOUNDARY_A[i], bg: BG_A[i], band: BANDS_A[i], pink: PINK_A[i], blue: BLUE_A[i], yellow: YELLOW_A[i],
      spanL: PANEL_A.spanL, spanR: PANEL_A.spanR, plotTop: PANEL_A.top0 + i * PANEL_A.step, plotH: PANEL_A.h,
      isLast: i === LABELS_A.length - 1,
      deco: i === 0 ? { panel: PANEL_LABELS[0], panelDy: 87.5 - PANEL_A.top0, density: true, legend: { side: "right", labels: LEGEND_A, colors: LEG_COLORS } } : false,
      padTop0: i === 0 ? PANEL_A.top0 - 20 : 24, padBottom0: i === 0 ? 56 : 8, z: i === 0 ? 5 : 1, names: LEGEND_A,
    });
  });
  LABELS_B.forEach((label, i) => {
    out.push({
      key: "B" + i, label, r: BOUNDARY_B[i], bg: BG_B[i], band: BANDS_B[i], pink: PINK_B[i], blue: BLUE_B[i], yellow: YELLOW_B[i],
      spanL: PANEL_B.spanL, spanR: PANEL_B.spanR, plotTop: PANEL_B.top0 + i * PANEL_B.step, plotH: PANEL_B.h,
      isLast: i === LABELS_B.length - 1,
      deco: i === 0 ? { panel: PANEL_LABELS[1], panelDy: 1214.6 - PANEL_B.top0, density: true, legend: { side: "left", labels: LEGEND_B, colors: LEG_COLORS } } : false,
      padTop0: i === 0 ? 135 : 24, padBottom0: i === 0 ? 64 : 8, z: i === 0 ? 5 : 1, names: LEGEND_B,
    });
  });
  return out;
}
const TRACKS = buildTracks();

function geom(c: Cfg) {
  const top = Math.floor(c.plotTop - c.padTop0);
  const padTop = c.plotTop - top;
  const height = Math.ceil(padTop + c.plotH + XAXIS_H + c.padBottom0);
  const padBottom = height - padTop - c.plotH - XAXIS_H;
  return { top, padTop, height, padBottom };
}

function makeConfig(c: Cfg, g: { padTop: number; padBottom: number }) {
  const xmin = c.r - c.spanL;
  const xmax = c.r + c.spanR;
  const pts = (arr: number[][], k: number) => arr.map((row) => ({ x: row[0], y: row[k] }));
  const motif = (arr: number[][], color: string, label: string) => ({
    label, data: pts(arr, 1), borderColor: LINE, borderWidth: 2.8, backgroundColor: color, fill: "origin", pointRadius: 0, clip: false,
  });
  const datasets: any[] = [
    { label: "boundary", data: [{ x: c.r, y: 1 }, { x: c.r, y: 0 }], borderColor: RED, borderWidth: 13, borderDash: [14, 25.7], fill: false, pointRadius: 0, clip: false },
    motif(c.yellow, YELLOW, c.names[3]),
    motif(c.blue, BLUE, c.names[2]),
    motif(c.pink, PINK, c.names[1]),
    { label: c.names[0], data: pts(c.band, 2), borderColor: LINE, borderWidth: 2.8, backgroundColor: DKGREEN, fill: 5, pointRadius: 0, clip: false },
    { label: c.names[0] + " lower", data: pts(c.band, 1), borderColor: "rgba(0,0,0,0)", borderWidth: 1, backgroundColor: GREEN, fill: "origin", pointRadius: 0 },
    { label: c.names[0] + " upper", data: pts(c.band, 3), borderColor: "rgba(0,0,0,0)", borderWidth: 1, backgroundColor: GRAYBAND, fill: "origin", pointRadius: 0 },
    { label: c.names[4], data: [{ x: c.bg[0], y: 1 }, { x: c.bg[1], y: 1 }], borderColor: "#000", borderWidth: 3, backgroundColor: BG, fill: "origin", pointRadius: 0, clip: false },
  ];
  return {
    type: "line" as const,
    data: { datasets },
    plugins: [decoPlugin],
    options: {
      responsive: false,
      animation: false as const,
      devicePixelRatio: 1,
      events: [],
      layout: { padding: { left: Y_PAD_L, right: W - PLOT_R, top: g.padTop, bottom: g.padBottom } },
      plugins: { legend: { display: false }, tooltip: { enabled: false }, deco: c.deco },
      scales: {
        x: {
          type: "linear", min: xmin, max: xmax, bounds: "data",
          afterBuildTicks: (sc: any) => {
            const t: any[] = [];
            for (let v = Math.ceil(sc.min / 5) * 5; v <= sc.max + 1e-9; v += 5) t.push({ value: v });
            sc.ticks = t;
          },
          afterFit: (sc: any) => { sc.height = XAXIS_H; },
          ticks: {
            autoSkip: false, maxRotation: 0, minRotation: 0, padding: 10, color: "#000",
            font: { family: FONT, size: FS },
            callback: (v: any) => Number(v).toLocaleString("en-US"),
          },
          grid: { display: true, drawOnChartArea: false, drawTicks: true, tickLength: 12, tickWidth: 2, tickColor: "#000" },
          border: { display: true, color: "#000", width: 3 },
          title: { display: c.isLast, text: AXIS_TITLE, color: "#000", font: { family: FONT, size: FS }, padding: 0 },
        },
        y: {
          type: "linear", min: 0, max: 1, position: "left",
          afterFit: (sc: any) => { sc.width = PLOT_L - Y_PAD_L; },
          ticks: { display: false }, grid: { display: false }, border: { display: false },
          title: { display: true, text: c.label, color: "#000", font: { family: FONT, size: YFS }, padding: 0 },
        },
      },
    },
  };
}

function Track({ c }: { c: Cfg }) {
  const ref = useRef<HTMLCanvasElement>(null);
  const g = geom(c);
  useEffect(() => {
    const chart = new Chart(ref.current as HTMLCanvasElement, makeConfig(c, g) as any);
    return () => chart.destroy();
  }, []);
  return (
    <canvas
      ref={ref}
      width={W}
      height={g.height}
      style={{ position: "absolute", left: 0, top: g.top, width: W, height: g.height, zIndex: c.z }}
    />
  );
}

export default function App() {
  return (
    <div style={{ position: "fixed", left: 0, top: 0, width: W, height: H, background: "#fff", overflow: "hidden" }}>
      {TRACKS.map((c) => (
        <Track key={c.key} c={c} />
      ))}
    </div>
  );
}
